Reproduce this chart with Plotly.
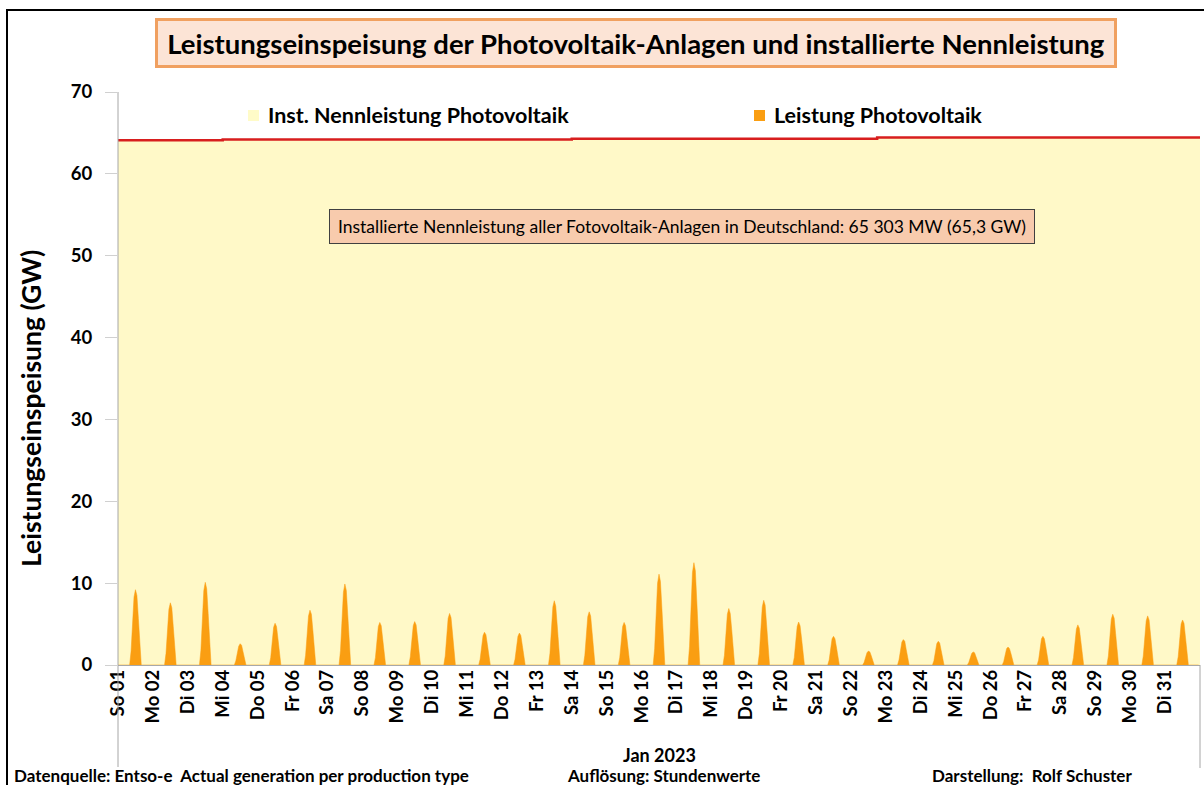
import pandas as pd
import plotly.graph_objects as go

# ---------------- data ----------------
day_labels = ["So 01", "Mo 02", "Di 03", "Mi 04", "Do 05", "Fr 06", "Sa 07", "So 08", "Mo 09", "Di 10",
              "Mi 11", "Do 12", "Fr 13", "Sa 14", "So 15", "Mo 16", "Di 17", "Mi 18", "Do 19", "Fr 20",
              "Sa 21", "So 22", "Mo 23", "Di 24", "Mi 25", "Do 26", "Fr 27", "Sa 28", "So 29", "Mo 30", "Di 31"]

# hourly PV feed-in (GW) for hours 09..15 of each day (other hours ~0)
pv_hours = [9, 10, 11, 12, 13, 14, 15]
pv_daily = [
    [1.7, 5.3, 8.3, 9.2, 8.5, 5.7, 2.2],
    [1.4, 4.4, 6.8, 7.6, 7.0, 4.7, 1.8],
    [1.8, 5.9, 9.1, 10.1, 9.3, 6.3, 2.4],
    [0.5, 1.5, 2.3, 2.6, 2.4, 1.6, 0.6],
    [0.9, 3.0, 4.6, 5.1, 4.7, 3.2, 1.2],
    [1.2, 3.9, 6.0, 6.7, 6.2, 4.2, 1.6],
    [1.8, 5.7, 8.9, 9.9, 9.1, 6.1, 2.4],
    [0.9, 3.0, 4.7, 5.2, 4.8, 3.2, 1.2],
    [1.0, 3.1, 4.8, 5.3, 4.9, 3.3, 1.3],
    [1.1, 3.7, 5.7, 6.3, 5.8, 3.9, 1.5],
    [0.7, 2.3, 3.6, 4.0, 3.7, 2.5, 1.0],
    [0.7, 2.3, 3.5, 3.9, 3.6, 2.4, 0.9],
    [1.4, 4.6, 7.1, 7.85, 7.2, 4.9, 1.9],
    [1.2, 3.8, 5.9, 6.5, 6.0, 4.0, 1.6],
    [0.9, 3.0, 4.7, 5.2, 4.8, 3.2, 1.2],
    [2.0, 6.4, 10.0, 11.1, 10.2, 6.9, 2.7],
    [2.3, 7.3, 11.3, 12.5, 11.5, 7.8, 3.0],
    [1.2, 4.0, 6.2, 6.9, 6.3, 4.3, 1.7],
    [1.4, 4.6, 7.1, 7.9, 7.3, 4.9, 1.9],
    [0.9, 3.0, 4.7, 5.25, 4.8, 3.3, 1.3],
    [0.6, 2.0, 3.2, 3.5, 3.2, 2.2, 0.8],
    [0.3, 1.0, 1.5, 1.7, 1.6, 1.1, 0.4],
    [0.6, 1.8, 2.8, 3.1, 2.9, 1.9, 0.7],
    [0.5, 1.7, 2.6, 2.9, 2.7, 1.8, 0.7],
    [0.3, 0.9, 1.4, 1.6, 1.5, 1.0, 0.4],
    [0.4, 1.3, 2.0, 2.2, 2.0, 1.4, 0.5],
    [0.6, 2.0, 3.2, 3.5, 3.2, 2.2, 0.8],
    [0.9, 2.8, 4.4, 4.9, 4.5, 3.0, 1.2],
    [1.1, 3.6, 5.6, 6.2, 5.7, 3.8, 1.5],
    [1.1, 3.5, 5.4, 6.0, 5.5, 3.7, 1.4],
    [1.0, 3.2, 5.0, 5.5, 5.1, 3.4, 1.3],
]

# installed PV capacity (GW), step changes
cap_times = ["2023-01-01 00:00", "2023-01-04 00:00", "2023-01-14 00:00", "2023-01-22 18:00", "2023-02-01 00:00"]
cap_values = [64.1, 64.2, 64.3, 64.45, 64.45]

y_ticks = [0, 10, 20, 30, 40, 50, 60, 70]

# ---------------- build hourly series ----------------
hours = pd.date_range("2023-01-01 00:00", "2023-01-31 23:00", freq="h")
pv = pd.Series(0.0, index=hours)
for d, vals in enumerate(pv_daily):
    for h, v in zip(pv_hours, vals):
        pv[pd.Timestamp(2023, 1, d + 1, h)] = v
day_ticks = pd.date_range("2023-01-01", periods=31, freq="D")

FONT = "Lato"
W, H = 1204, 785
L, R, T, B = 118, 4, 92, 120
pw, ph = W - L - R, H - T - B


def px(x):
    return (x - L) / pw


def py(y):
    return (H - B - y) / ph


fig = go.Figure()
fig.add_trace(go.Scatter(
    x=cap_times, y=cap_values, mode="lines", line=dict(color="#D81E1E", width=2.5, shape="hv"),
    fill="tozeroy", fillcolor="#FFF9C8", name="Inst. Nennleistung Photovoltaik", showlegend=False))
fig.add_trace(go.Scatter(
    x=pv.index, y=pv.values, mode="lines", line=dict(color="#FA9E12", width=0.5),
    fill="tozeroy", fillcolor="#FA9E12", name="Leistung Photovoltaik", showlegend=False))

fig.update_layout(
    width=W, height=H,
    margin=dict(l=L, r=R, t=T, b=B),
    paper_bgcolor="white", plot_bgcolor="white",
    font=dict(family=FONT, color="black"),
    xaxis=dict(
        type="date", range=["2023-01-01 00:00", "2023-02-01 00:00"],
        tickvals=list(day_ticks), ticktext=day_labels, tickangle=-90,
        tickfont=dict(family=FONT, size=18.5, weight="bold"),
        showgrid=False, showline=False, zeroline=False, ticks="",
    ),
    yaxis=dict(
        range=[0, 70], tickvals=y_ticks,
        tickfont=dict(family=FONT, size=18.5, weight="bold"),
        showgrid=True, gridcolor="#A8A8A8", griddash="4px,3px", gridwidth=1,
        zeroline=True, zerolinecolor="#A8A8A8", zerolinewidth=1.5,
        ticks="outside", ticklen=12, tickcolor="#D0D0D0", ticklabelstandoff=9,
        showline=False,
    ),
)

shapes = [
    # outer black frame
    dict(type="rect", xref="paper", yref="paper", x0=px(7), x1=px(1212), y0=py(10), y1=py(800),
         line=dict(color="black", width=2), fillcolor="rgba(0,0,0,0)", layer="above"),
    # left and right plot-area edges
    dict(type="line", xref="paper", yref="paper", x0=0, x1=0, y0=py(767), y1=1,
         line=dict(color="#A6A6A6", width=1)),
    dict(type="line", xref="paper", yref="paper", x0=1, x1=1, y0=py(768), y1=0,
         line=dict(color="#A6A6A6", width=1)),
    # legend squares
    dict(type="rect", xref="paper", yref="paper", x0=px(248), x1=px(259), y0=py(121), y1=py(110),
         line=dict(width=0), fillcolor="#FFFBC8"),
    dict(type="rect", xref="paper", yref="paper", x0=px(754), x1=px(765), y0=py(121), y1=py(110),
         line=dict(width=0), fillcolor="#FA9E12"),
]

annotations = [
    dict(text="Leistungseinspeisung der Photovoltaik-Anlagen und installierte Nennleistung",
         xref="paper", yref="paper", x=px(636), y=py(43), xanchor="center", yanchor="middle",
         showarrow=False, font=dict(family=FONT, size=27.5, weight="bold", color="black"),
         bgcolor="#FCE4D6", bordercolor="#F0A060", borderwidth=3, borderpad=6,
         width=944, height=32),
    dict(text="Installierte Nennleistung aller Fotovoltaik-Anlagen in Deutschland: 65 303 MW (65,3 GW)",
         xref="paper", yref="paper", x=px(682), y=py(226.5), xanchor="center", yanchor="middle",
         showarrow=False, font=dict(family=FONT, size=17.5, color="black"),
         bgcolor="#F8CBAD", bordercolor="#404040", borderwidth=1, borderpad=7,
         width=690, height=19),
    dict(text="Leistungseinspeisung (GW)", xref="paper", yref="paper", x=px(31), y=py(409),
         xanchor="center", yanchor="middle", textangle=-90, showarrow=False,
         font=dict(family=FONT, size=26.5, weight="bold", color="black")),
    dict(text="Inst. Nennleistung Photovoltaik", xref="paper", yref="paper", x=px(266), y=py(115),
         xanchor="left", yanchor="middle", showarrow=False,
         font=dict(family=FONT, size=21.5, weight="bold", color="black")),
    dict(text="Leistung Photovoltaik", xref="paper", yref="paper", x=px(772), y=py(115),
         xanchor="left", yanchor="middle", showarrow=False,
         font=dict(family=FONT, size=21.5, weight="bold", color="black")),
    dict(text="Jan 2023", xref="paper", yref="paper", x=px(659), y=py(755),
         xanchor="center", yanchor="middle", showarrow=False,
         font=dict(family=FONT, size=18, weight="bold", color="black")),
    dict(text="Datenquelle: Entso-e  Actual generation per production type", xref="paper", yref="paper",
         x=px(12), y=py(775), xanchor="left", yanchor="middle", showarrow=False,
         font=dict(family=FONT, size=17, weight="bold", color="black")),
    dict(text="Auflösung: Stundenwerte", xref="paper", yref="paper",
         x=px(565), y=py(775), xanchor="left", yanchor="middle", showarrow=False,
         font=dict(family=FONT, size=17, weight="bold", color="black")),
    dict(text="Darstellung:  Rolf Schuster", xref="paper", yref="paper",
         x=px(930), y=py(775), xanchor="left", yanchor="middle", showarrow=False,
         font=dict(family=FONT, size=17, weight="bold", color="black")),
]

fig.update_layout(shapes=shapes, annotations=annotations)
fig.write_html("out.html", config={"displayModeBar": False},
               post_script="document.body.style.margin='0';document.body.style.overflow='hidden';")
